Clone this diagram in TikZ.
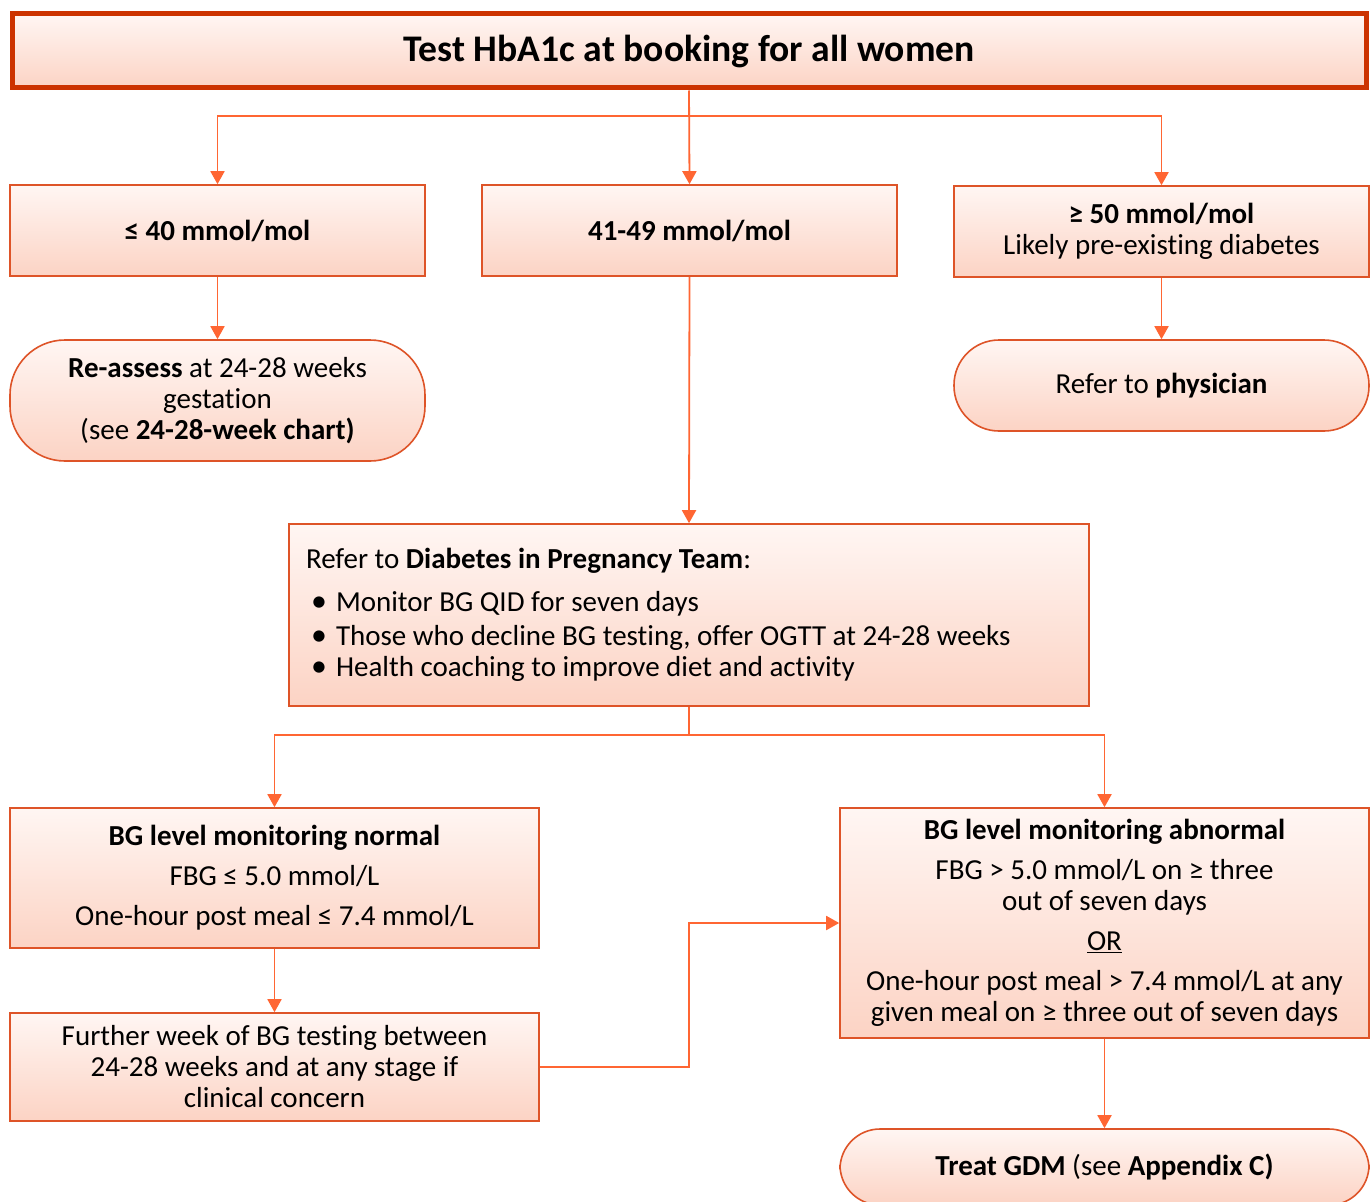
\documentclass[tikz,border=0pt]{standalone}
\usepackage{fontspec}
\setmainfont{Carlito}[Ligatures=NoCommon]
\usetikzlibrary{arrows.meta}
\definecolor{bord}{HTML}{DE5428}
\definecolor{titbord}{HTML}{CC3300}
\definecolor{lnk}{HTML}{FF6633}
\definecolor{ftop}{HTML}{FFF6F3}
\definecolor{fbot}{HTML}{FCD3C4}
\newcommand{\blt}{\hspace*{5pt}\makebox[25pt][l]{\scalebox{1.1}{•}}}
\begin{document}
\begin{tikzpicture}[x=1pt,y=-1pt,
  box/.style={draw=bord, line width=1.6pt, top color=ftop, bottom color=fbot,
    font=\fontsize{29pt}{31pt}\selectfont, align=center, inner sep=0pt},
  pill/.style={box, rounded corners=48pt},
  arr/.style={draw=lnk, line width=1.8pt, -{Triangle[length=13pt,width=14pt]}},
  lin/.style={draw=lnk, line width=1.8pt}]
\clip (0,0) rectangle (1372,1201);
\fill[white] (0,0) rectangle (1372,1201);

\node[box, draw=titbord, line width=5pt, minimum width=1354pt, minimum height=74pt,
  font=\fontsize{37.6pt}{40pt}\selectfont\bfseries] (title) at (689,51) {Test HbA1c at booking for all women};

\node[box, minimum width=415pt, minimum height=91pt] (A) at (217.5,230.5) {\textbf{≤ 40 mmol/mol}};
\node[box, minimum width=415pt, minimum height=91pt] (B) at (689.5,230.5) {\textbf{41-49 mmol/mol}};
\node[box, minimum width=415pt, minimum height=91pt] (C) at (1161.5,231.5) {\textbf{≥ 50 mmol/mol}\\ Likely pre-existing diabetes};

\node[pill, minimum width=415pt, minimum height=121pt, rounded corners=55pt] (A2) at (217.5,400.5)
  {\textbf{Re-assess} at 24-28 weeks\\ gestation\\ (see \textbf{24-28-week chart)}};
\node[pill, minimum width=415pt, minimum height=91pt, rounded corners=45pt] (C2) at (1161.5,385.5)
  {Refer to \textbf{physician}};

\node[box, minimum width=800pt, minimum height=182pt, align=flush left, text width=766pt] (D) at (689,615)
  {Refer to \textbf{Diabetes in Pregnancy Team}:\\[8pt]
   \fontsize{29pt}{34.5pt}\selectfont
   \blt Monitor BG QID for seven days\\
   \blt Those who decline BG testing, offer OGTT at 24-28 weeks\\
   \blt Health coaching to improve diet and activity};

\node[box, minimum width=529pt, minimum height=140pt] (E) at (274.5,878)
  {\textbf{BG level monitoring normal}\\[9pt] FBG ≤ 5.0 mmol/L\\[9pt] One-hour post meal ≤ 7.4 mmol/L};
\node[box, minimum width=529pt, minimum height=230pt] (F) at (1104.5,923)
  {\textbf{BG level monitoring abnormal}\\[9pt] FBG > 5.0 mmol/L on ≥ three\\ out of seven days\\[9pt]
   \underline{OR}\\[9pt] One-hour post meal > 7.4 mmol/L at any\\ given meal on ≥ three out of seven days};
\node[box, minimum width=529pt, minimum height=108pt] (G) at (274.5,1067)
  {Further week of BG testing between\\ 24-28 weeks and at any stage if\\ clinical concern};
\node[pill, minimum width=529pt, minimum height=76pt, rounded corners=40pt] (H) at (1104.5,1167)
  {\textbf{Treat GDM} (see \textbf{Appendix C)}};

\coordinate (j1) at (689,116);
\coordinate (j2) at (689,735);
\coordinate (k) at (689,923);
\draw[arr] (title.south) -- (B.north);
\draw[arr] (j1) -| (A.north);
\draw[arr] (j1) -| (C.north);
\draw[arr] (A.south) -- (A2.north);
\draw[arr] (C.south) -- (C2.north);
\draw[arr] (B.south) -- (D.north);
\draw[lin] (D.south) -- (j2);
\draw[arr] (j2) -| (E.north);
\draw[arr] (j2) -| (F.north);
\draw[arr] (E.south) -- (G.north);
\draw[arr] (G.east) -| (k) -- (F.west);
\draw[arr] (F.south) -- (H.north);
\end{tikzpicture}
\end{document}
